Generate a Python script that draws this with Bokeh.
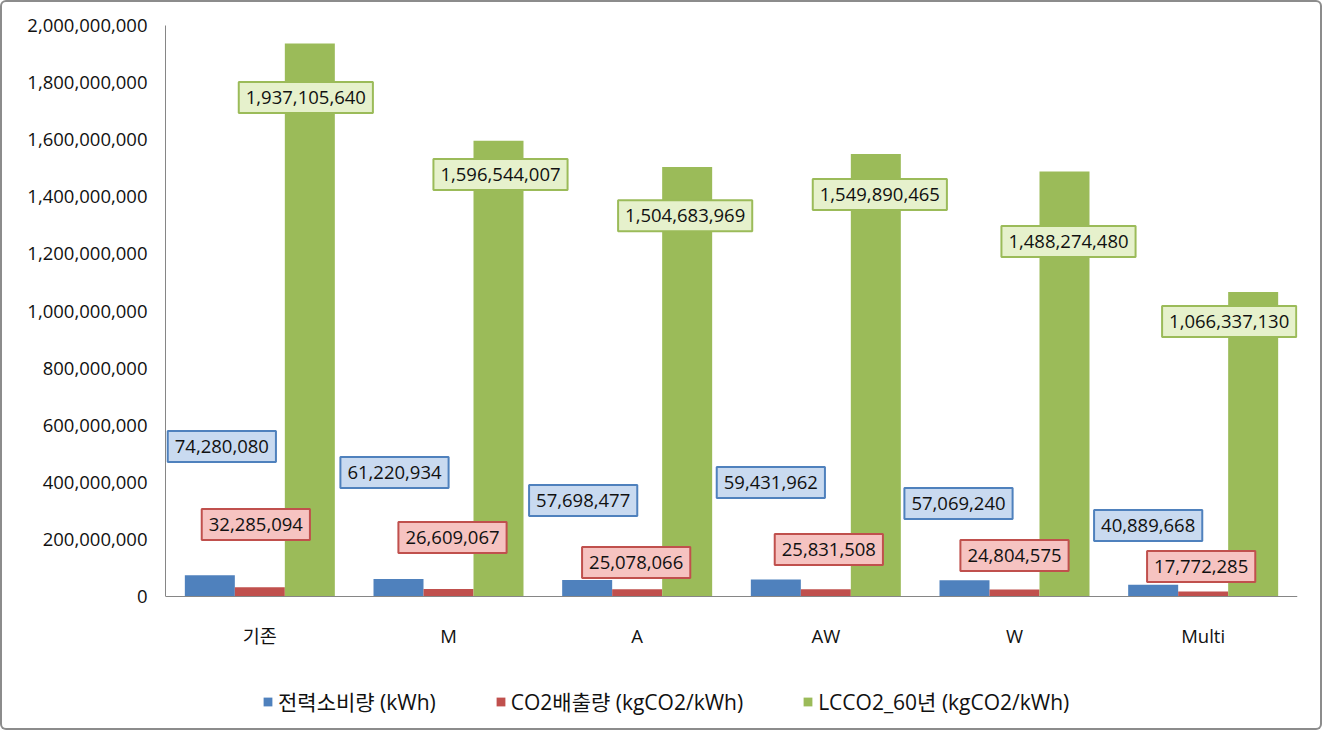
from bokeh.plotting import figure
from bokeh.models import (ColumnDataSource, FactorRange, Range1d, NumeralTickFormatter,
                          Legend, LegendItem, FixedTicker)
from bokeh.core.properties import value
from bokeh.transform import dodge
from bokeh.embed import file_html
from bokeh.resources import INLINE

categories = ["기존", "M", "A", "AW", "W", "Multi"]
power_kwh = [74280080, 61220934, 57698477, 59431962, 57069240, 40889668]
co2_kg = [32285094, 26609067, 25078066, 25831508, 24804575, 17772285]
lcco2_60 = [1937105640, 1596544007, 1504683969, 1549890465, 1488274480, 1066337130]
y_ticks = [0, 200000000, 400000000, 600000000, 800000000, 1000000000,
           1200000000, 1400000000, 1600000000, 1800000000, 2000000000]
series_names = ["전력소비량 (kWh)", "CO2배출량 (kgCO2/kWh)", "LCCO2_60년 (kgCO2/kWh)"]

# placement of the (manually moved) data-label boxes, in data units / pixel offsets
power_label_y = [525e6, 434e6, 336e6, 399e6, 326e6, 249e6]
co2_label_y = [252e6, 207e6, 119e6, 165e6, 144e6, 105e6]
lcco2_label_y = [1748e6, 1478e6, 1334e6, 1408e6, 1243e6, 963e6]
power_label_dx = [12, -4, -4, -5, -6, -5]
co2_label_dx = [-4, 4, -1, 3, 0, -2]
lcco2_label_dx = [-4, 2, -2, 4, 4, -24]

FONT = "'Open Sans', 'Noto Sans CJK KR'"
BLUE, RED, GREEN = "#4f81bd", "#c0504d", "#9bbb59"
AXIS = "#868686"

src = ColumnDataSource(dict(
    cat=categories, power=power_kwh, co2=co2_kg, lcco2=lcco2_60,
    power_txt=[f"{v:,}" for v in power_kwh],
    co2_txt=[f"{v:,}" for v in co2_kg],
    lcco2_txt=[f"{v:,}" for v in lcco2_60],
    power_ly=power_label_y, co2_ly=co2_label_y, lcco2_ly=lcco2_label_y,
    power_dx=power_label_dx, co2_dx=co2_label_dx, lcco2_dx=lcco2_label_dx,
))

# layout: the value axis spans 571 px (0 .. 2e9); the frame continues 126 px below 0
# so that the category labels and legend sit inside it
Y_MAX = 2000000000
y_start = -Y_MAX * 126 / 571

p = figure(width=1322, height=730, x_range=FactorRange(*categories, range_padding=0),
           y_range=Range1d(y_start, Y_MAX), output_backend="svg", toolbar_location=None,
           min_border_left=165, min_border_right=25, min_border_top=25, min_border_bottom=8)
p.outline_line_color = None
p.xgrid.grid_line_color = None
p.ygrid.grid_line_color = None
p.background_fill_color = None
p.border_fill_color = None
p.styles = {"background": "white", "box-shadow": "inset 0 0 0 2px #8c8c8c",
            "border-radius": "6px"}

w = 0.265
r1 = p.vbar(x=dodge("cat", -w, range=p.x_range), top="power", width=w, source=src,
            fill_color=BLUE, line_color=None)
r2 = p.vbar(x=dodge("cat", 0, range=p.x_range), top="co2", width=w, source=src,
            fill_color=RED, line_color=None)
r3 = p.vbar(x=dodge("cat", w, range=p.x_range), top="lcco2", width=w, source=src,
            fill_color=GREEN, line_color=None)

def labels(off, ycol, tcol, dxcol, fill, border):
    p.text(x=dodge("cat", off, range=p.x_range), y=ycol, text=tcol, x_offset=dxcol,
           source=src, text_align="center", text_baseline="middle",
           text_font_size="18.5px", text_font=value("Open Sans"), text_color="#111111",
           background_fill_color=fill, border_line_color=border, border_line_width=2,
           padding=(7, 9))

labels(-w, "power_ly", "power_txt", "power_dx", "#c9daf0", BLUE)
labels(0, "co2_ly", "co2_txt", "co2_dx", "#f6c3c1", RED)
labels(w, "lcco2_ly", "lcco2_txt", "lcco2_dx", "#e6f1cc", GREEN)

p.yaxis.ticker = FixedTicker(ticks=y_ticks)
p.yaxis.formatter = NumeralTickFormatter(format="0,0")
p.yaxis.bounds = (0, Y_MAX)
p.xaxis.fixed_location = 0
for ax in (p.xaxis[0], p.yaxis[0]):
    ax.axis_line_color = AXIS
    ax.major_tick_line_color = None
    ax.minor_tick_line_color = None
    ax.major_tick_out = 0
    ax.major_tick_in = 0
    ax.major_label_text_font = FONT
    ax.major_label_text_font_size = "18.5px"
    ax.major_label_text_color = "#111111"
p.yaxis.major_label_standoff = 18
p.xaxis.major_label_standoff = 26

legend = Legend(items=[LegendItem(label=series_names[0], renderers=[r1]),
                       LegendItem(label=series_names[1], renderers=[r2]),
                       LegendItem(label=series_names[2], renderers=[r3])],
                orientation="horizontal", location=(97, 6),
                glyph_width=11, glyph_height=11, label_standoff=5, spacing=59,
                padding=0, margin=0, border_line_color=None, background_fill_alpha=0,
                label_text_font=FONT, label_text_font_size="21px", label_text_color="#111111")
p.add_layout(legend, "center")

open("out.html", "w").write(file_html(p, INLINE))
